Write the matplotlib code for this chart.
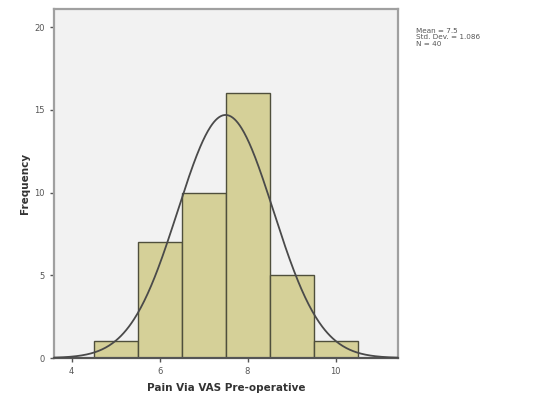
import numpy as np
import matplotlib
matplotlib.use("Agg")
import matplotlib.pyplot as plt

# Data
bin_centers = [5, 6, 7, 8, 9, 10]
frequencies = [1, 7, 10, 16, 5, 1]
mean_val = 7.5
std_val = 1.086
n_val = 40
x_ticks = [4, 6, 8, 10]
y_ticks = [0, 5, 10, 15, 20]

fig = plt.figure(figsize=(5.42, 3.97), dpi=100)
fig.patch.set_facecolor("white")
ax = fig.add_axes([54/542, 39/397, 344/542, 349/397])
ax.set_facecolor("#f2f2f2")

ax.bar(bin_centers, frequencies, width=1.0, color="#d5d098",
       edgecolor="#4f4f3c", linewidth=1.0, zorder=2)

xs = np.linspace(3.6, 11.4, 400)
binw = 1.0
ys = n_val * binw / (std_val * np.sqrt(2 * np.pi)) * np.exp(-0.5 * ((xs - mean_val) / std_val) ** 2)
ax.plot(xs, ys, color="#4a4a4a", linewidth=1.3, zorder=3)

ax.set_xlim(3.6, 11.42)
ax.set_ylim(0, 21.1)
ax.set_xticks(x_ticks)
ax.set_yticks(y_ticks)
ax.tick_params(axis="both", labelsize=6, colors="#555555", length=3, width=1.0,
               direction="out")
for s in ax.spines.values():
    s.set_color("#a0a0a0")
    s.set_linewidth(1.6)
ax.spines["bottom"].set_color("#555555")

ax.set_xlabel("Pain Via VAS Pre-operative", fontsize=7.5, fontweight="bold",
              color="#333333", labelpad=5)
ax.set_ylabel("Frequency", fontsize=7.5, fontweight="bold", color="#333333",
              labelpad=3)

fig.text(416/542, 1 - 28/397,
         "Mean = %.1f\nStd. Dev. = %.3f\nN = %d" % (mean_val, std_val, n_val),
         fontsize=5.2, color="#555555", va="top", ha="left", linespacing=1.05)

fig.savefig("out.png", dpi=100)
